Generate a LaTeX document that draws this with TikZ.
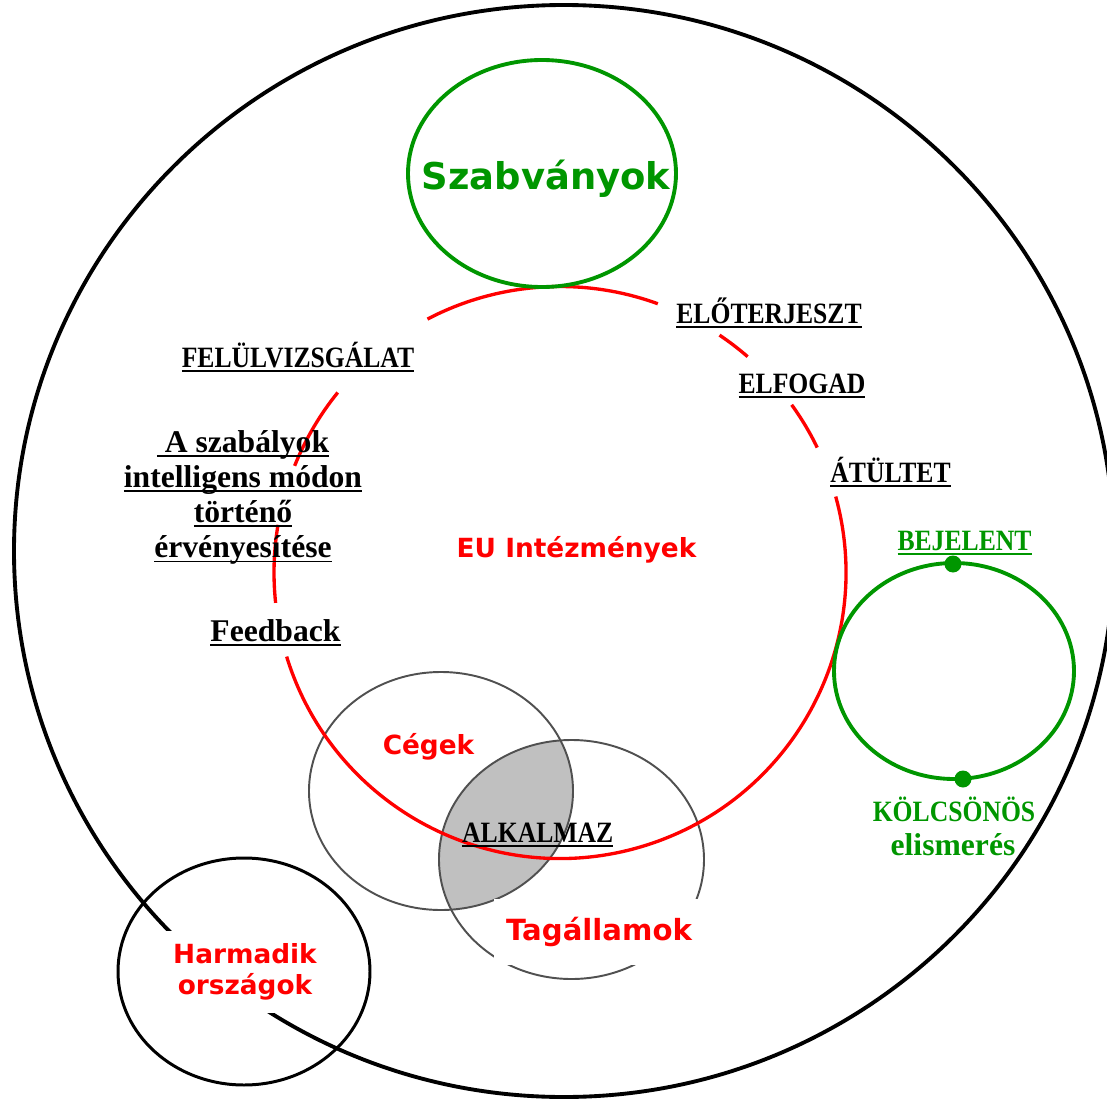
\documentclass[tikz,border=0pt]{standalone}
\usepackage{fontspec}
\setmainfont{Liberation Serif}
\newfontfamily\verd{DejaVu Sans}
\definecolor{eured}{RGB}{255,0,0}
\definecolor{eugreen}{RGB}{0,150,0}
\definecolor{vennfill}{RGB}{192,192,192}
\definecolor{venngray}{RGB}{80,80,80}
\newcommand{\undl}[1]{\setbox0\hbox{#1}\rlap{\rule[-2.6pt]{\wd0}{1.1pt}}\box0}
\newcommand{\tallcap}[1]{\scalebox{1}[1.15]{#1}}
\tikzset{
  ring/.style={line width=2.2pt},
  redring/.style={draw=eured, line width=1.9pt},
  greenring/.style={draw=eugreen, line width=2.2pt},
  venn/.style={draw=venngray, line width=1.1pt},
  dot/.style={circle, fill=eugreen, inner sep=0pt, minimum size=0.34cm},
  lbl/.style={font=\bfseries\fontsize{14.6}{17}\selectfont, anchor=base, inner sep=0pt},
  lbltext/.style={lbl, font=\bfseries\fontsize{18}{20}\selectfont},
  redlbl/.style={text=eured, font=\verd\bfseries\fontsize{15}{17.6}\selectfont, anchor=base, inner sep=0pt}
}
\begin{document}
\begin{tikzpicture}[x=0.02cm,y=-0.02cm]
  \useasboundingbox (0,0) rectangle (1107,1099);
  % outer ring
  \draw[ring] (564,551) ellipse [x radius=550, y radius=546];
  % Cegek / Tagallamok
  \begin{scope}
    \clip (441,791) ellipse [x radius=132, y radius=119];
    \fill[vennfill] (571.5,859.5) ellipse [x radius=132.5, y radius=119.5];
  \end{scope}
  \draw[venn] (441,791) ellipse [x radius=132, y radius=119];
  \draw[venn] (571.5,859.5) ellipse [x radius=132.5, y radius=119.5];
  % EU ring, broken at the labels
  \coordinate (eu) at (560,572.5);
  \foreach \a/\b in {-70/-117.6,-49/-56.1,-25.9/-35.9,162.9/-15.4,-170.4/-186.1,-141/-158.1}
  {
    \draw[redring] (eu) ++(\a:286) arc[start angle=\a, end angle=\b, radius=286];
  }
  \draw[greenring] (542,173.5) ellipse [x radius=134, y radius=113.5];
  \draw[greenring] (954,671) ellipse [x radius=120, y radius=108];
  \node[dot] (bejdot) at (953,564) {};
  \node[dot] (kolcsdot) at (963,779) {};
  \draw[ring, line width=1.7pt] (244,971.5) ellipse [x radius=126, y radius=113.5];

  \node[text=eugreen, font=\verd\bfseries\fontsize{21}{24}\selectfont, anchor=base, inner sep=0pt] (szabv) at (546,189) {Szabványok};
  \node[redlbl] (eulbl) at (576.5,557) {EU Intézmények};
  \node[redlbl] (cegek) at (428.5,754) {Cégek};
  \node[redlbl, font=\verd\bfseries\fontsize{16.6}{19}\selectfont, anchor=center, fill=white, minimum width=4.2cm, minimum height=1.32cm] (tagall) at (599,932) {Tagállamok};
  \node[redlbl, anchor=center, align=center, fill=white, minimum width=3.2cm, minimum height=1.64cm] (harmadik) at (245,972) {Harmadik\\országok};

  \node[lbl] (felulv) at (298,367) {\tallcap{\undl{FELÜLVIZSGÁLAT}}};
  \node[lbl] (eloterj) at (769,323) {\tallcap{\undl{ELŐTERJESZT}}};
  \node[lbl] (elfogad) at (802,393) {\tallcap{\undl{ELFOGAD}}};
  \node[lbl] (atultet) at (890.5,482) {\tallcap{\undl{ÁTÜLTET}}};
  \node[lbl] (alkalmaz) at (537.7,842) {\tallcap{\undl{ALKALMAZ}}};
  \node[lbl, text=eugreen] (bejelent) at (964.5,550) {\tallcap{\undl{BEJELENT}}};
  \node[lbl, text=eugreen] (kolcs) at (954,821) {\tallcap{KÖLCSÖNÖS}};
  \node[lbltext, text=eugreen] (elism) at (953,855) {elismerés};
  \foreach \t [count=\i] in {~A szabályok, intelligens módon, történő, érvényesítése}
  {
    \node[lbltext] (szab\i) at (243,452+35.3*\i-35.3) {\undl{\t}};
  }
  \node[lbltext] (feedback) at (275.5,641) {\undl{Feedback}};
\end{tikzpicture}
\end{document}
